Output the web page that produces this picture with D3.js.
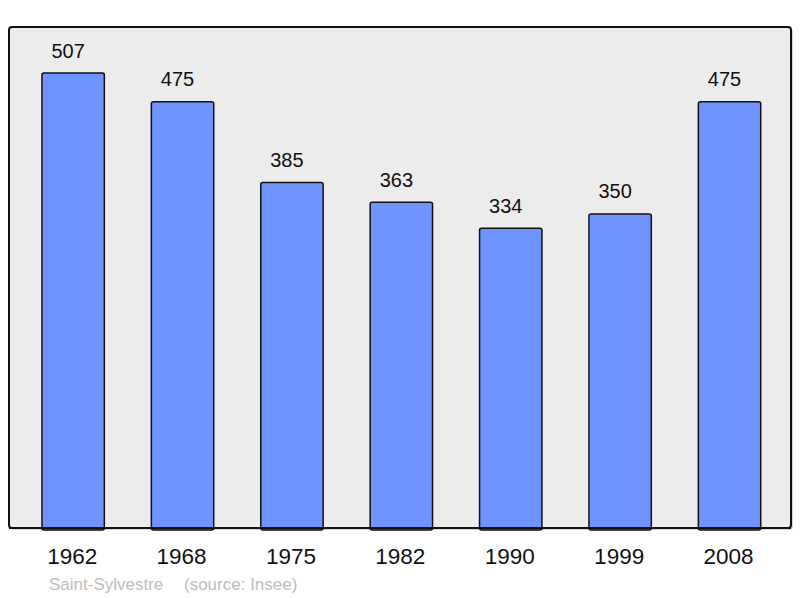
<!DOCTYPE html>
<html>
<head>
<meta charset="utf-8">
<script src="https://cdn.jsdelivr.net/npm/d3@7"></script>
<style>
  body { margin: 0; background: #fff; }
  text { font-family: "Liberation Sans", Arial, sans-serif; }
</style>
</head>
<body>
<div id="chart"></div>
<script>
// data
var years = ["1962", "1968", "1975", "1982", "1990", "1999", "2008"];
var population = [507, 475, 385, 363, 334, 350, 475];
var commune = "Saint-Sylvestre";
var source = "(source: Insee)";

var width = 800, height = 598;
var frame = {left: 9, top: 27, right: 791, bottom: 528};

var svg = d3.select("#chart").append("svg")
  .attr("width", width)
  .attr("height", height);

// shadow under the frame
svg.append("rect")
  .attr("x", frame.left + 2)
  .attr("y", frame.top + 2)
  .attr("width", frame.right - frame.left)
  .attr("height", frame.bottom - frame.top)
  .attr("rx", 3)
  .style("fill", "#d8d8d8");

// background frame
svg.append("rect")
  .attr("x", frame.left)
  .attr("y", frame.top)
  .attr("width", frame.right - frame.left)
  .attr("height", frame.bottom - frame.top)
  .attr("rx", 3)
  .style("fill", "#ececec")
  .style("stroke", "#111")
  .style("stroke-width", 2);

// scales
var x = d3.scaleBand()
  .domain(years)
  .range([20.1, 782.6])
  .paddingInner(0.43)
  .paddingOuter(0.2);

var y = d3.scaleLinear()
  .domain([0, 507])
  .range([frame.bottom, 73]);

var data = years.map(function(d, i) { return {year: d, value: population[i]}; });

// bars
svg.selectAll(".bar")
  .data(data)
  .enter().append("rect")
    .attr("class", "bar")
    .attr("x", function(d) { return x(d.year); })
    .attr("y", function(d) { return y(d.value); })
    .attr("width", x.bandwidth())
    .attr("height", function(d) { return y(0) - y(d.value) + 2; })
    .attr("rx", 2)
    .style("fill", "#7094ff")
    .style("stroke", "#111")
    .style("stroke-width", 1.5);

// redraw the frame bottom line over the bars
svg.append("line")
  .attr("x1", frame.left)
  .attr("x2", frame.right)
  .attr("y1", frame.bottom)
  .attr("y2", frame.bottom)
  .style("stroke", "#111")
  .style("stroke-width", 2);

// value labels (sit a little left of the bar centre, as in the original)
svg.selectAll(".value")
  .data(data)
  .enter().append("text")
    .attr("class", "value")
    .attr("text-anchor", "middle")
    .attr("x", function(d) { return x(d.year) + x.bandwidth() / 2 - 5; })
    .attr("y", function(d) { return y(d.value) - 15.5; })
    .style("font-size", "20px")
    .style("fill", "#111")
    .text(function(d) { return d.value; });

// x axis labels
var xAxis = svg.append("g")
  .attr("transform", "translate(0," + frame.bottom + ")")
  .call(d3.axisBottom(x).tickSize(0).tickPadding(0));
xAxis.select(".domain").remove();
xAxis.selectAll("text")
  .attr("dy", null)
  .attr("y", 36)
  .attr("dx", -1)
  .style("font-size", "22.5px")
  .style("font-family", "'Liberation Sans', Arial, sans-serif")
  .style("fill", "#111");

// caption
svg.append("text")
  .attr("x", 49)
  .attr("y", 590)
  .style("font-size", "17px")
  .style("fill", "#bdbdbd")
  .text(commune);
svg.append("text")
  .attr("x", 184)
  .attr("y", 590)
  .style("font-size", "17px")
  .style("fill", "#bdbdbd")
  .text(source);
</script>
</body>
</html>
